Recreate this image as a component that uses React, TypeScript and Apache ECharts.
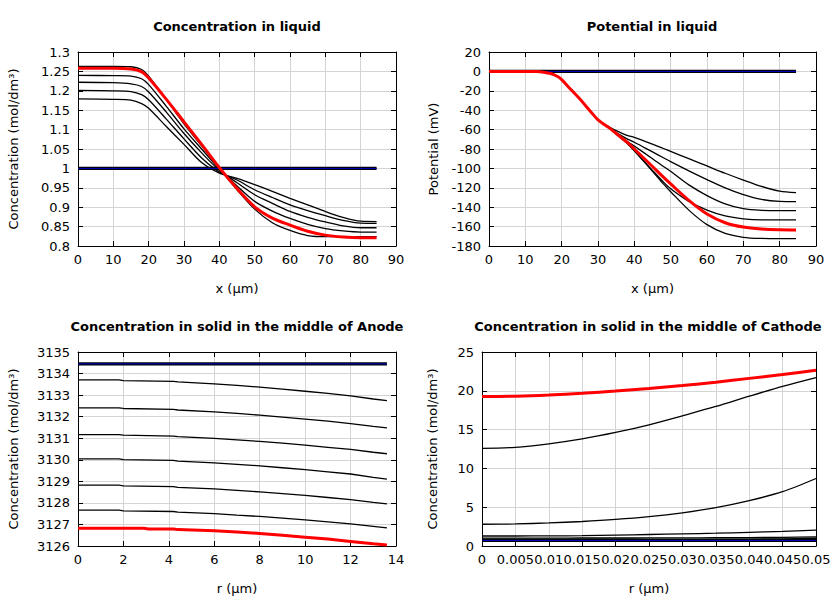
import React, { useEffect, useRef } from "react";
import * as echarts from "echarts";

// ---------- Panel 1: Concentration in liquid ----------
const liqX = [0, 10, 15, 18, 20, 25, 30, 35, 40, 45, 50, 55, 60, 65, 70, 75, 80, 84.5];
const concInitX = [0, 84.5];
const concInitY = [1.0, 1.0];
const concT1 = [1.179, 1.178, 1.176, 1.167, 1.155, 1.108, 1.062, 1.015, 0.988, 0.974, 0.958, 0.941, 0.923, 0.906, 0.889, 0.874, 0.864, 0.863];
const concT2 = [1.201, 1.200, 1.198, 1.190, 1.177, 1.127, 1.076, 1.027, 0.991, 0.970, 0.945, 0.925, 0.906, 0.891, 0.878, 0.866, 0.859, 0.8585];
const concT3 = [1.222, 1.221, 1.218, 1.211, 1.197, 1.145, 1.090, 1.040, 0.995, 0.963, 0.932, 0.910, 0.889, 0.874, 0.862, 0.852, 0.847, 0.847];
const concT4 = [1.240, 1.239, 1.238, 1.231, 1.216, 1.160, 1.102, 1.050, 0.998, 0.955, 0.915, 0.890, 0.871, 0.856, 0.845, 0.839, 0.836, 0.836];
const concT5 = [1.263, 1.263, 1.262, 1.255, 1.238, 1.178, 1.115, 1.058, 1.000, 0.945, 0.895, 0.860, 0.840, 0.827, 0.824, 0.824, 0.824, 0.824];
const concFinal = [1.258, 1.258, 1.256, 1.249, 1.233, 1.178, 1.120, 1.062, 1.002, 0.948, 0.901, 0.872, 0.854, 0.838, 0.828, 0.823, 0.821, 0.821];

// ---------- Panel 2: Potential in liquid ----------
const potX = [0, 10, 13, 15, 17, 19, 20, 22, 25, 28, 30, 33, 35, 38, 40, 45, 48, 50, 55, 60, 65, 70, 75, 80, 84.5];
const potInitX = [0, 84.5];
const potInitY = [0, 0];
const potT1 = [0, 0, -0.2, -0.8, -2.2, -5.5, -8.5, -16.5, -28.5, -41.5, -50, -57, -61, -66, -68, -75, -79.5, -82.5, -90, -97.5, -105, -112, -118.5, -123.5, -125];
const potT2 = [0, 0, -0.2, -0.8, -2.2, -5.5, -8.5, -16.5, -28.5, -41.5, -50, -58, -63, -69.5, -73, -83, -89, -93, -102.5, -111.5, -120, -127, -132, -134, -134.2];
const potT3 = [0, 0, -0.2, -0.8, -2.2, -5.5, -8.5, -16.5, -28.5, -41.5, -50, -58, -63.5, -72, -77, -90, -98, -103, -117, -128, -136.5, -141.5, -143.2, -143.5, -143.5];
const potT4 = [0, 0, -0.2, -0.8, -2.2, -5.5, -8.5, -16.5, -28.5, -41.5, -50, -58, -64.5, -74, -81.5, -102, -114, -121, -134, -143, -149, -152, -153, -153, -153];
const potT5 = [0, 0, -0.2, -0.8, -2.2, -5.5, -8.5, -16.5, -28.5, -41.5, -50, -58, -64.5, -74, -82, -103, -116, -124, -143, -158, -167, -171, -172.2, -172.4, -172.4];
const potFinal = [0, 0, -0.2, -0.8, -2.2, -5.5, -8.5, -16.5, -28.5, -41.5, -50, -58, -64, -73, -80, -98, -109, -116, -133, -147, -156, -160.5, -162.5, -163.3, -163.5];

// ---------- Panel 3: Concentration in solid, Anode ----------
const anodeR = [0, 1.8, 2.0, 4.2, 4.4, 6, 7, 8, 9, 10, 11, 12, 13, 13.6];
const anodeRFinal = [0, 2.9, 3.1, 4.2, 4.4, 6, 7, 8, 9, 10, 11, 12, 13, 13.6];
const anodeInitX = [0, 13.6];
const anodeInitY = [3134.45, 3134.45];
const anodeT1 = [3133.71, 3133.71, 3133.67, 3133.64, 3133.61, 3133.52, 3133.45, 3133.37, 3133.28, 3133.18, 3133.08, 3132.96, 3132.82, 3132.74];
const anodeT2 = [3132.41, 3132.41, 3132.38, 3132.34, 3132.31, 3132.22, 3132.15, 3132.07, 3131.98, 3131.89, 3131.79, 3131.68, 3131.55, 3131.48];
const anodeT3 = [3131.17, 3131.17, 3131.14, 3131.10, 3131.07, 3130.99, 3130.92, 3130.85, 3130.77, 3130.68, 3130.58, 3130.48, 3130.35, 3130.28];
const anodeT4 = [3130.04, 3130.04, 3130.01, 3129.97, 3129.94, 3129.86, 3129.79, 3129.72, 3129.63, 3129.54, 3129.44, 3129.34, 3129.18, 3129.10];
const anodeT5 = [3128.82, 3128.82, 3128.79, 3128.75, 3128.72, 3128.65, 3128.58, 3128.51, 3128.43, 3128.35, 3128.25, 3128.15, 3128.02, 3127.95];
const anodeT6 = [3127.66, 3127.66, 3127.63, 3127.60, 3127.57, 3127.50, 3127.43, 3127.37, 3127.29, 3127.21, 3127.12, 3127.03, 3126.91, 3126.84];
const anodeFinal = [3126.82, 3126.82, 3126.79, 3126.79, 3126.76, 3126.71, 3126.65, 3126.58, 3126.50, 3126.41, 3126.32, 3126.21, 3126.10, 3126.05];

// ---------- Panel 4: Concentration in solid, Cathode ----------
const cathR = [0, 0.005, 0.01, 0.015, 0.02, 0.025, 0.03, 0.035, 0.04, 0.045, 0.05];
const cathInitX = [0, 0.05];
const cathInitY = [0.72, 0.72];
const cathT1 = [0.86, 0.86, 0.86, 0.86, 0.86, 0.86, 0.86, 0.87, 0.89, 0.92, 0.96];
const cathT2 = [1.02, 1.02, 1.02, 1.03, 1.03, 1.04, 1.05, 1.07, 1.09, 1.12, 1.16];
const cathT3 = [1.29, 1.29, 1.30, 1.33, 1.40, 1.48, 1.56, 1.65, 1.76, 1.89, 2.05];
const cathT4 = [2.80, 2.84, 2.97, 3.16, 3.42, 3.78, 4.28, 4.95, 5.85, 7.00, 8.70];
const cathT5 = [12.58, 12.72, 13.17, 13.80, 14.63, 15.62, 16.78, 17.98, 19.30, 20.57, 21.70];
const cathFinal = [19.25, 19.30, 19.45, 19.68, 19.97, 20.30, 20.68, 21.10, 21.60, 22.10, 22.65];

const FONT = "DejaVu Sans";

function pairs(xs: number[], ys: number[]) {
  return xs.map((x, i) => [x, ys[i]]);
}

function line(g: number, xs: number[], ys: number[], color: string, width: number, smooth: boolean, z = 2) {
  return {
    type: "line",
    xAxisIndex: 2 * g,
    yAxisIndex: 2 * g,
    data: pairs(xs, ys),
    symbol: "none",
    showSymbol: false,
    smooth: smooth ? 0.3 : false,
    silent: true,
    z,
    lineStyle: { color, width },
  };
}

function initial(g: number, xs: number[], ys: number[]) {
  return [
    line(g, xs, ys, "#000000", 3.2, false, 3),
    line(g, xs, ys, "#0000c8", 1, false, 4),
  ];
}

const plainLabel = (v: number) => String(Math.round(v * 1e6) / 1e6);

function xAxes(g: number, min: number, max: number, interval: number, name: string) {
  const common = {
    type: "value",
    gridIndex: g,
    min,
    max,
    interval,
  };
  return [
    {
      ...common,
      position: "bottom",
      name,
      nameLocation: "middle",
      nameGap: 36,
      nameTextStyle: { fontSize: 13, color: "#000", fontFamily: FONT },
      axisLine: { show: true, onZero: false, lineStyle: { color: "#000", width: 1 } },
      axisTick: { show: true, inside: true, length: 5, lineStyle: { color: "#000" } },
      axisLabel: { show: true, fontSize: 13, color: "#000", margin: 7, fontFamily: FONT, showMinLabel: true, showMaxLabel: true, formatter: plainLabel },
      splitLine: { show: true, lineStyle: { color: "#d4d4d4", width: 1 } },
    },
    {
      ...common,
      position: "top",
      axisLine: { show: true, onZero: false, lineStyle: { color: "#000", width: 1 } },
      axisTick: { show: true, inside: true, length: 5, lineStyle: { color: "#000" } },
      axisLabel: { show: false },
      splitLine: { show: false },
    },
  ];
}

function yAxes(g: number, min: number, max: number, interval: number, name: string, gap: number) {
  const common = {
    type: "value",
    gridIndex: g,
    min,
    max,
    interval,
    scale: true,
  };
  return [
    {
      ...common,
      position: "left",
      name,
      nameLocation: "middle",
      nameRotate: 90,
      nameGap: gap,
      nameTextStyle: { fontSize: 13, color: "#000", fontFamily: FONT },
      axisLine: { show: true, onZero: false, lineStyle: { color: "#000", width: 1 } },
      axisTick: { show: true, inside: true, length: 5, lineStyle: { color: "#000" } },
      axisLabel: { show: true, fontSize: 13, color: "#000", margin: 8, fontFamily: FONT, showMinLabel: true, showMaxLabel: true, formatter: plainLabel },
      splitLine: { show: true, lineStyle: { color: "#d4d4d4", width: 1 } },
    },
    {
      ...common,
      position: "right",
      axisLine: { show: true, onZero: false, lineStyle: { color: "#000", width: 1 } },
      axisTick: { show: true, inside: true, length: 5, lineStyle: { color: "#000" } },
      axisLabel: { show: false },
      splitLine: { show: false },
    },
  ];
}

const CONC_NAME = "Concentration (mol/dm³)";

export default function App() {
  const ref = useRef<HTMLDivElement>(null);

  useEffect(() => {
    if (!ref.current) return;
    const chart = echarts.init(ref.current, null, { renderer: "svg" });

    const titleStyle = { fontSize: 13, fontWeight: "bold", color: "#000", fontFamily: FONT };

    const option = {
      animation: false,
      backgroundColor: "#ffffff",
      textStyle: { fontFamily: FONT },
      title: [
        { text: "Concentration in liquid", left: 237, top: 20, textAlign: "center", padding: 0, textStyle: titleStyle },
        { text: "Potential in liquid", left: 652, top: 20, textAlign: "center", padding: 0, textStyle: titleStyle },
        { text: "Concentration in solid in the middle of Anode", left: 237, top: 320, textAlign: "center", padding: 0, textStyle: titleStyle },
        { text: "Concentration in solid in the middle of Cathode", left: 648, top: 320, textAlign: "center", padding: 0, textStyle: titleStyle },
      ],
      grid: [
        { left: 78, top: 52, width: 318, height: 194 },
        { left: 489, top: 52, width: 327, height: 194 },
        { left: 78, top: 352, width: 318, height: 194 },
        { left: 482, top: 352, width: 334, height: 194 },
      ],
      xAxis: [
        ...xAxes(0, 0, 90, 10, "x (µm)"),
        ...xAxes(1, 0, 90, 10, "x (µm)"),
        ...xAxes(2, 0, 14, 2, "r (µm)"),
        ...xAxes(3, 0, 0.05, 0.005, "r (µm)"),
      ],
      yAxis: [
        ...yAxes(0, 0.8, 1.3, 0.05, CONC_NAME, 58),
        ...yAxes(1, -180, 20, 20, "Potential (mV)", 49),
        ...yAxes(2, 3126, 3135, 1, CONC_NAME, 58),
        ...yAxes(3, 0, 25, 5, CONC_NAME, 43),
      ],
      series: [
        // panel 1
        ...initial(0, concInitX, concInitY),
        line(0, liqX, concT1, "#000", 1.3, true),
        line(0, liqX, concT2, "#000", 1.3, true),
        line(0, liqX, concT3, "#000", 1.3, true),
        line(0, liqX, concT4, "#000", 1.3, true),
        line(0, liqX, concT5, "#000", 1.3, true),
        line(0, liqX, concFinal, "#ff0000", 3, true, 5),
        // panel 2
        ...initial(1, potInitX, potInitY),
        line(1, potX, potT1, "#000", 1.3, true),
        line(1, potX, potT2, "#000", 1.3, true),
        line(1, potX, potT3, "#000", 1.3, true),
        line(1, potX, potT4, "#000", 1.3, true),
        line(1, potX, potT5, "#000", 1.3, true),
        line(1, potX, potFinal, "#ff0000", 3, true, 5),
        // panel 3
        ...initial(2, anodeInitX, anodeInitY),
        line(2, anodeR, anodeT1, "#000", 1.3, false),
        line(2, anodeR, anodeT2, "#000", 1.3, false),
        line(2, anodeR, anodeT3, "#000", 1.3, false),
        line(2, anodeR, anodeT4, "#000", 1.3, false),
        line(2, anodeR, anodeT5, "#000", 1.3, false),
        line(2, anodeR, anodeT6, "#000", 1.3, false),
        line(2, anodeRFinal, anodeFinal, "#ff0000", 3, false, 5),
        // panel 4
        line(3, cathR, cathT1, "#000", 1.3, true),
        line(3, cathR, cathT2, "#000", 1.3, true),
        line(3, cathR, cathT3, "#000", 1.3, true),
        line(3, cathR, cathT4, "#000", 1.3, true),
        line(3, cathR, cathT5, "#000", 1.3, true),
        ...initial(3, cathInitX, cathInitY),
        line(3, cathR, cathFinal, "#ff0000", 3, true, 5),
      ],
    };

    chart.setOption(option as any);
    return () => chart.dispose();
  }, []);

  return (
    <div
      ref={ref}
      style={{ position: "absolute", left: 0, top: 0, width: 840, height: 600, background: "#fff" }}
    />
  );
}
